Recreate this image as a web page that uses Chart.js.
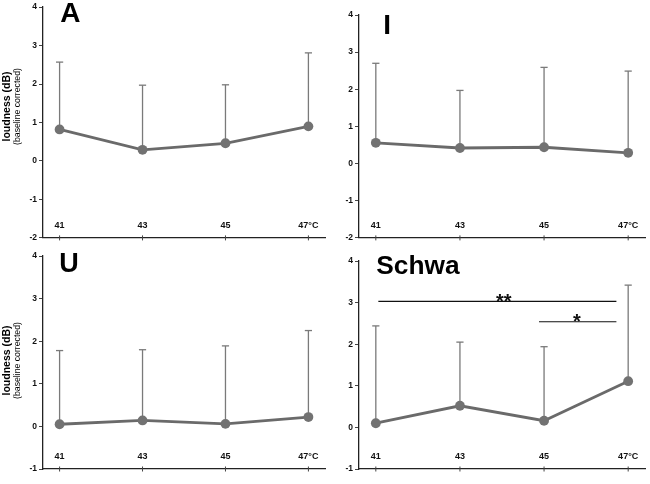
<!DOCTYPE html>
<html><head><meta charset="utf-8">
<script src="https://cdn.jsdelivr.net/npm/chart.js@4/dist/chart.umd.min.js"></script>
<style>
html,body{margin:0;padding:0;background:#fff;}
#wrap{position:relative;width:650px;height:484px;overflow:hidden;font-family:Arial,"Liberation Sans",sans-serif;background:#fff;}
.pane{position:absolute;}
.pane canvas{display:block;}
.ttl{position:absolute;font-weight:bold;line-height:1;color:#000;white-space:nowrap;font-family:Arial,"Liberation Sans",sans-serif;}
.ylab{position:absolute;width:110px;height:21px;transform:rotate(-90deg);transform-origin:50% 50%;text-align:center;white-space:nowrap;color:#000;font-family:Arial,"Liberation Sans",sans-serif;}
.ylab .l1{font-weight:bold;font-size:10.5px;line-height:11px;}
.ylab .l2{font-size:8.7px;line-height:10px;}
</style></head>
<body>
<div id="wrap">
  <div class="pane" style="left:0;top:0;"><canvas id="cA" width="330" height="245"></canvas></div>
  <div class="pane" style="left:325px;top:0;"><canvas id="cI" width="325" height="245"></canvas></div>
  <div class="pane" style="left:0;top:245px;"><canvas id="cU" width="330" height="239"></canvas></div>
  <div class="pane" style="left:325px;top:245px;"><canvas id="cS" width="325" height="239"></canvas></div>
  <div class="ttl" style="left:60.3px;top:-1.2px;font-size:28px;">A</div>
  <div class="ttl" style="left:383.3px;top:11.3px;font-size:28px;">I</div>
  <div class="ttl" style="left:59.3px;top:249.5px;font-size:27px;">U</div>
  <div class="ttl" style="left:376.3px;top:251.6px;font-size:26.3px;">Schwa</div>
  <div class="ylab" style="left:-44px;top:95.5px;"><div class="l1">loudness (dB)</div><div class="l2">(baseline corrected)</div></div>
  <div class="ylab" style="left:-44px;top:349.5px;"><div class="l1">loudness (dB)</div><div class="l2">(baseline corrected)</div></div>
</div>
<script>
// ---- data ----
const categories = ['41', '43', '45', '47°C'];
const meanA = [0.82, 0.29, 0.46, 0.90];
const upperA = [2.57, 1.97, 1.98, 2.81];
const meanI = [0.56, 0.42, 0.44, 0.29];
const upperI = [2.70, 1.97, 2.59, 2.49];
const meanU = [0.05, 0.14, 0.06, 0.22];
const upperU = [1.78, 1.80, 1.89, 2.25];
const meanSchwa = [0.10, 0.52, 0.16, 1.11];
const upperSchwa = [2.44, 2.05, 1.94, 3.42];
const yRangeTop = [-2, 4];
const yRangeBottom = [-1, 4];
// significance brackets (Schwa)
const sigFrom = [0.03, 1.94];
const sigTo = [2.86, 2.86];
const sigY = [3.03, 2.54];
const sigTextX = [1.52, 2.39];
const sigLabel = ['**', '*'];

const FONT = 'Arial, "Liberation Sans", sans-serif';

function meanData(mean) {
  return categories.map((c, i) => ({x: i, y: mean[i]}));
}
function errData(mean, upper) {
  const out = [];
  categories.forEach((c, i) => {
    out.push({x: i, y: mean[i]});
    out.push({x: i, y: upper[i]});
    out.push({x: i, y: null});
  });
  return out;
}

const sigTextPlugin = {
  id: 'sigText',
  afterDatasetsDraw(chart, args, opts) {
    if (!opts || !opts.enabled) return;
    const ctx = chart.ctx, xs = chart.scales.x, ys = chart.scales.y;
    ctx.save();
    ctx.fillStyle = '#111';
    ctx.font = 'bold 20px ' + FONT;
    ctx.textAlign = 'center';
    ctx.textBaseline = 'alphabetic';
    sigLabel.forEach((lab, i) => {
      ctx.fillText(lab, xs.getPixelForValue(sigTextX[i]), ys.getPixelForValue(sigY[i]) + 6.3);
    });
    ctx.restore();
  }
};

function makePanel(id, mean, upper, yr, box, withSig) {
  const datasets = [
    {
      label: 'mean', data: meanData(mean),
      borderColor: '#6a6a6a', borderWidth: 2.8,
      pointRadius: 4.9, pointBackgroundColor: '#727272', pointBorderColor: '#727272', pointBorderWidth: 0,
      tension: 0, clip: false
    },
    {
      label: 'sd', data: errData(mean, upper),
      borderColor: '#7a7a7a', borderWidth: 1.3, spanGaps: false,
      pointStyle: 'line',
      pointRadius: (c) => (c.dataIndex % 3 === 1 ? 3.6 : 0),
      pointBorderColor: '#7a7a7a', pointBorderWidth: 1.3,
      clip: false
    },
    {
      label: 'xticks', data: categories.map((c, i) => ({x: i, y: yr[0]})),
      showLine: false, pointStyle: 'line', rotation: 90, pointRadius: 2.5,
      pointBorderColor: '#444', pointBorderWidth: 1, clip: false
    }
  ];
  if (withSig) {
    sigFrom.forEach((f, i) => {
      datasets.push({
        label: 'sig' + i,
        data: [{x: f, y: sigY[i]}, {x: sigTo[i], y: sigY[i]}],
        borderColor: '#111', borderWidth: 1.1, pointRadius: 0, clip: false
      });
    });
  }
  return new Chart(document.getElementById(id), {
    type: 'line',
    data: {datasets},
    options: {
      responsive: false, animation: false, devicePixelRatio: 1,
      layout: {padding: {top: box.padTop, right: box.padRight, left: 0, bottom: 0}},
      plugins: {legend: {display: false}, tooltip: {enabled: false}, sigText: {enabled: withSig}},
      scales: {
        x: {
          type: 'linear', min: -0.2, max: 3.2,
          afterBuildTicks: (s) => { s.ticks = categories.map((c, i) => ({value: i})); },
          afterFit: (s) => { s.height = box.xHeight; },
          ticks: {
            callback: (v) => categories[v],
            font: {size: 9, weight: 'bold', family: FONT}, color: '#111',
            mirror: true, padding: 7, maxRotation: 0, minRotation: 0, autoSkip: false
          },
          grid: {drawOnChartArea: false, drawTicks: false, color: '#444', lineWidth: 1},
          border: {color: '#222', width: 1.3}
        },
        y: {
          type: 'linear', min: yr[0], max: yr[1],
          afterFit: (s) => { s.width = box.yWidth; },
          ticks: {stepSize: 1, font: {size: 8.5, weight: 'bold', family: FONT}, color: '#111', padding: 2},
          grid: {drawOnChartArea: false, tickLength: 4, color: '#444', lineWidth: 1},
          border: {color: '#222', width: 1.3}
        }
      }
    },
    plugins: [sigTextPlugin]
  });
}

makePanel('cA', meanA, upperA, yRangeTop, {padTop: 6, padRight: 5, yWidth: 43, xHeight: 5}, false);
makePanel('cI', meanI, upperI, yRangeTop, {padTop: 15, padRight: 2, yWidth: 34, xHeight: 6}, false);
makePanel('cU', meanU, upperU, yRangeBottom, {padTop: 11, padRight: 5, yWidth: 43, xHeight: 15}, false);
makePanel('cS', meanSchwa, upperSchwa, yRangeBottom, {padTop: 16, padRight: 2, yWidth: 34, xHeight: 15}, true);
</script>
</body></html>
